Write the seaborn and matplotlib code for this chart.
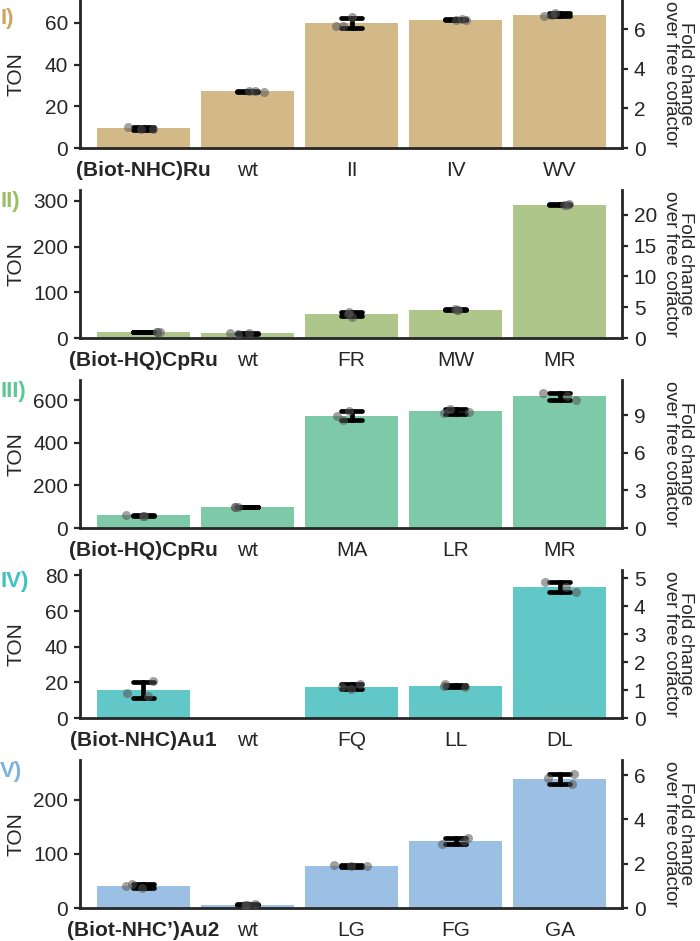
import numpy as np
import pandas as pd
import matplotlib
matplotlib.use("Agg")
import matplotlib.pyplot as plt
import seaborn as sns
from matplotlib.ticker import MultipleLocator

# panel metadata
panel_tags = ["I)", "II)", "III)", "IV)", "V)"]
cofactors = ["(Biot-NHC)Ru", "(Biot-HQ)CpRu", "(Biot-HQ)CpRu",
             "(Biot-NHC)Au1", "(Biot-NHC\u2019)Au2"]
mutants = [
    ["wt", "II", "IV", "WV"],
    ["wt", "FR", "MW", "MR"],
    ["wt", "MA", "LR", "MR"],
    ["wt", "FQ", "LL", "DL"],
    ["wt", "LG", "FG", "GA"],
]

# TON replicates (3 per variant), first entry = free cofactor
ton_I = [[10.3, 9.0, 9.2], [27.3, 27.0, 27.3], [62.9, 58.6, 58.6],
         [61.3, 61.8, 61.4], [64.8, 63.3, 63.9]]
ton_II = [[14.0, 13.0, 13.5], [10.5, 9.5, 10.0], [56.5, 53.0, 47.0],
          [63.5, 61.0, 61.5], [294.0, 291.0, 291.0]]
ton_III = [[61.0, 57.0, 58.0], [100.0, 97.0, 97.0], [550.0, 506.0, 525.0],
           [560.0, 537.0, 544.0], [600.0, 634.0, 617.0]]
ton_IV = [[20.5, 14.0, 12.6], [], [18.8, 16.2, 17.5],
          [18.8, 17.5, 17.8], [76.2, 73.5, 70.8]]
ton_V = [[45.0, 41.5, 36.5], [7.5, 5.5, 5.0], [80.0, 77.0, 77.0],
         [130.0, 124.0, 118.0], [248.0, 229.0, 240.0]]
ton_all = [ton_I, ton_II, ton_III, ton_IV, ton_V]

ton_top = [71, 324, 694, 83, 274]
ton_step = [20, 100, 200, 20, 100]
fold_step = [2, 5, 3, 1, 2]

bar_colors = ["#D3B988", "#AFC68A", "#7ECAA8", "#62C8C7", "#9BC0E4"]
tag_colors = ["#CFA55E", "#9DBF63", "#5DC896", "#3DC3C3", "#7CB3E0"]

sns.set_style("ticks")
plt.rcParams["font.family"] = ["Liberation Sans", "DejaVu Sans"]
plt.rcParams["axes.linewidth"] = 2

FS = 15
W, H = 700, 941
fig = plt.figure(figsize=(W / 100, H / 100), dpi=100)

for i in range(5):
    cats = [cofactors[i]] + mutants[i]
    rows = []
    for c, reps in zip(cats, ton_all[i]):
        for v in reps:
            rows.append({"variant": c, "TON": v})
    df = pd.DataFrame(rows)

    top_px = 190 * i
    ax = fig.add_axes([80 / W, 1 - (top_px + 148) / H, 542 / W, 148 / H])

    sns.barplot(data=df, x="variant", y="TON", order=cats, ax=ax,
                color=bar_colors[i], saturation=1, width=0.9, linewidth=0,
                errorbar="sd", capsize=0.2,
                err_kws={"color": "black", "linewidth": 3.4})
    np.random.seed(7 + i)
    sns.stripplot(data=df, x="variant", y="TON", order=cats, ax=ax,
                  color="#555555", alpha=0.55, size=6.5, jitter=0.17,
                  linewidth=0)

    free = np.mean(ton_all[i][0])
    ax.set_xlim(-0.61, 4.6)
    ax.set_ylim(0, ton_top[i])
    ax.yaxis.set_major_locator(MultipleLocator(ton_step[i]))
    ax.set_xlabel("")
    ax.set_ylabel("TON", fontsize=FS, va="center")
    ax.yaxis.set_label_coords(-0.118, 0.5)
    ax.tick_params(axis="x", length=0, pad=9, labelsize=FS)
    ax.tick_params(axis="y", length=4.5, width=1.6, pad=4, labelsize=FS)
    ax.get_xticklabels()[0].set_fontweight("bold")
    for s in ["top", "right"]:
        ax.spines[s].set_visible(False)

    ax2 = ax.twinx()
    ax2.set_ylim(0, ton_top[i] / free)
    ax2.yaxis.set_major_locator(MultipleLocator(fold_step[i]))
    ax2.tick_params(axis="y", length=4.5, width=1.6, pad=4, labelsize=FS)
    for s in ["top", "left", "bottom"]:
        ax2.spines[s].set_visible(False)
    ax2.set_ylabel("Fold change\nover free cofactor", fontsize=13.5,
                   rotation=270, va="center", ha="center", linespacing=0.85)
    ax2.yaxis.set_label_coords(1.104, 0.5)

    tag_y = 8 if i == 0 else top_px + 1
    fig.text(0.0, 1 - tag_y / H, panel_tags[i], color=tag_colors[i],
             fontsize=16, fontweight="bold", va="top", ha="left")

fig.savefig("out.png", dpi=100)
